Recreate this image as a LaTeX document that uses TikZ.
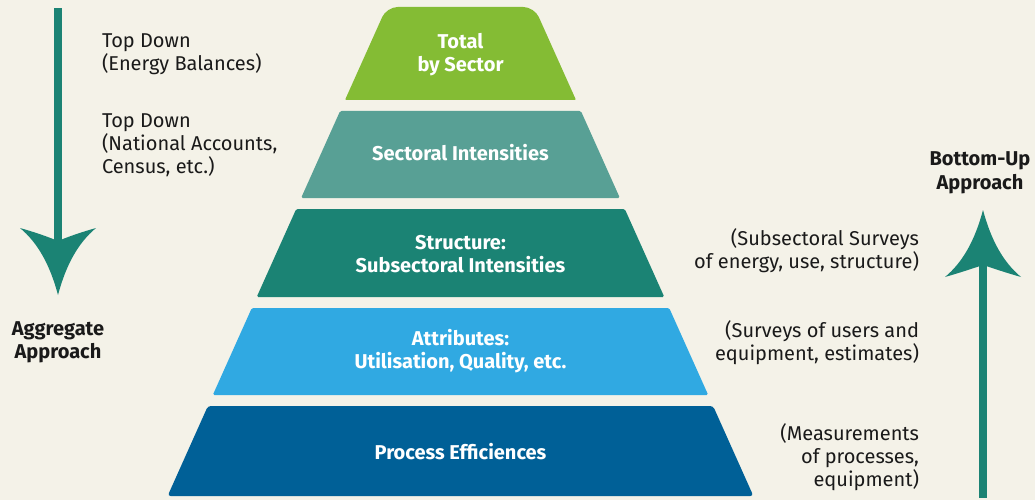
\documentclass[tikz,border=0pt]{standalone}
\usepackage{fontspec}
\setmainfont{Fira Sans}
\definecolor{bg}{HTML}{F4F2E8}
\definecolor{cgreen}{HTML}{84BC34}
\definecolor{csect}{HTML}{58A095}
\definecolor{cstruct}{HTML}{1B8374}
\definecolor{cattr}{HTML}{30A9E2}
\definecolor{cproc}{HTML}{006097}
\definecolor{ctext}{HTML}{1A1A1A}
\begin{document}
\begin{tikzpicture}[x=1pt,y=-1pt,
  every node/.style={inner sep=0pt,outer sep=0pt},
  plain/.style={font=\fontsize{20}{23}\selectfont,text=ctext},
  bold/.style={font=\fontsize{20}{23.5}\selectfont\bfseries,text=ctext},
  layerlabel/.style={font=\fontsize{20}{23}\selectfont\bfseries,text=white,align=center},
  arrowfill/.style={fill=cstruct}]
\useasboundingbox[fill=bg] (0,0) rectangle (1035,500);
% pyramid layers
\fill[cgreen] (345,100) [rounded corners=11pt] -- (386.7,7) -- (534.3,7) [rounded corners=1pt] -- (576,100) -- cycle;
\fill[csect,rounded corners=1.5pt] (301.1,198) -- (340.1,111) -- (580.9,111) -- (619.9,198) -- cycle;
\fill[cstruct,rounded corners=1.5pt] (256.7,297) -- (296.2,209) -- (624.8,209) -- (664.3,297) -- cycle;
\fill[cattr,rounded corners=1.5pt] (212.8,395) -- (251.8,308) -- (669.2,308) -- (708.2,395) -- cycle;
\fill[cproc,rounded corners=3pt] (167.6,496) -- (207.9,406) -- (713.1,406) -- (753.4,496) -- cycle;
% layer labels
\node[layerlabel] (total) at (460.5,54.5) {Total\\by Sector};
\node[layerlabel] (sect) at (460.5,153) {Sectoral Intensities};
\node[layerlabel] (struct) at (460.5,254.5) {Structure:\\Subsectoral Intensities};
\node[layerlabel] (attr) at (460.5,351.5) {Attributes:\\Utilisation, Quality, etc.};
\node[layerlabel] (proc) at (460.5,452) {Process Efficiences};
% left arrow
\fill[arrowfill] (54,8) rectangle (62,245);
\fill[arrowfill] (58,295) .. controls (50,265) and (38,243) .. (20,228)
  .. controls (34,232) and (46,236) .. (58,241)
  .. controls (70,236) and (82,232) .. (96,228)
  .. controls (78,243) and (66,265) .. (58,295) -- cycle;
% right arrow
\fill[arrowfill] (979,262) rectangle (987,498);
\fill[arrowfill] (983,210) .. controls (975,240) and (963,262) .. (945,277)
  .. controls (959,273) and (971,269) .. (983,265)
  .. controls (995,269) and (1007,273) .. (1021,277)
  .. controls (1003,262) and (991,240) .. (983,210) -- cycle;
% left texts
\node[plain,anchor=west,align=left] (td1) at (102,54.5) {Top Down\\(Energy Balances)};
\node[plain,anchor=west,align=left] (td2) at (102,145) {Top Down\\(National Accounts,\\Census, etc.)};
\node[bold,align=center] (agg) at (58,342.5) {Aggregate\\Approach};
\node[bold,align=center] (bu) at (980,173) {Bottom-Up\\Approach};
% right texts
\node[plain,anchor=east,align=right] (r1) at (919,250.5) {(Subsectoral Surveys\\of energy, use, structure)};
\node[plain,anchor=east,align=right] (r2) at (919,342.5) {(Surveys of users and\\equipment, estimates)};
\node[plain,anchor=east,align=right] (r3) at (919,457) {(Measurements\\of processes,\\equipment)};
\end{tikzpicture}
\end{document}
